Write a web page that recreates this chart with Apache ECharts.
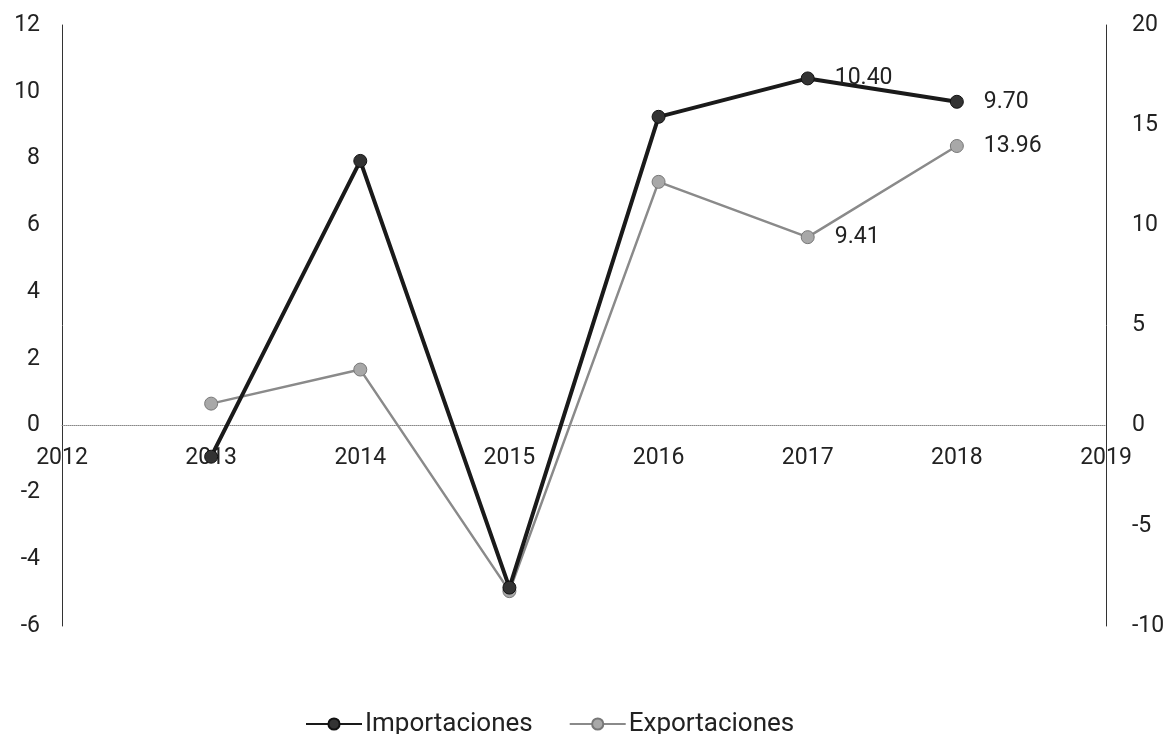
<!DOCTYPE html>
<html>
<head>
<meta charset="utf-8">
<script src="https://cdn.jsdelivr.net/npm/echarts@6/dist/echarts.min.js"></script>
<style>html,body{margin:0;padding:0;background:#fff}#c{width:1168px;height:734px}</style>
</head>
<body>
<div id="c"></div>
<script>
const years = [2013, 2014, 2015, 2016, 2017, 2018];
const importaciones = [-0.93, 7.93, -4.85, 9.25, 10.40, 9.70];
const exportaciones = [1.10, 2.80, -8.26, 12.17, 9.41, 13.96];
const labelledYears = [2017, 2018];
const leftMin = -6, leftMax = 12, leftStep = 2;
const rightMin = -10, rightMax = 20, rightStep = 5;

const font = 'Roboto, "Liberation Sans", sans-serif';
const W = 1168, H = 734;
const grid = {left:62, right:62, top:25, bottom:108};
const plotH = H - grid.top - grid.bottom;
// move the x axis (line + labels) up to the zero of the left axis
const zeroOffset = -plotH * (0 - leftMin) / (leftMax - leftMin);

function toData(vals){
  return years.map((y,i)=>({value:[y, vals[i]], label:{show: labelledYears.includes(y)}}));
}
const chart = echarts.init(document.getElementById('c'));
chart.setOption({
  animation:false,
  grid:Object.assign({containLabel:false}, grid),
  legend:{
    top:706, left:300, itemWidth:56, itemHeight:14, itemGap:36,
    textStyle:{fontFamily:font,fontSize:26,color:'#222',padding:[0,0,0,-2]},
    data:['Importaciones','Exportaciones']
  },
  xAxis:{
    type:'value', min:2012, max:2019, interval:1, offset:zeroOffset,
    axisLine:{onZero:false,lineStyle:{color:'#888',type:'dotted',width:1}},
    axisTick:{show:false}, splitLine:{show:false},
    axisLabel:{fontFamily:font,fontSize:23,color:'#222',margin:21,formatter:v=>String(v)}
  },
  yAxis:[
    {type:'value',min:leftMin,max:leftMax,interval:leftStep,position:'left',
     axisLine:{show:true,onZero:false,lineStyle:{color:'#333',width:1}},
     axisTick:{show:false},splitLine:{show:false},
     axisLabel:{fontFamily:font,fontSize:23,color:'#222',margin:22}},
    {type:'value',min:rightMin,max:rightMax,interval:rightStep,position:'right',
     axisLine:{show:true,onZero:false,lineStyle:{color:'#333',width:1}},
     axisTick:{show:false},splitLine:{show:false},
     axisLabel:{fontFamily:font,fontSize:23,color:'#222',margin:26}}
  ],
  series:[
    {name:'Importaciones',type:'line',yAxisIndex:0,data:toData(importaciones),
     symbol:'circle',symbolSize:13,
     lineStyle:{color:'#1a1a1a',width:4},
     itemStyle:{color:'#333',borderColor:'#111',borderWidth:1},
     label:{position:'right',distance:20,fontFamily:font,fontSize:23,color:'#222',formatter:p=>p.value[1].toFixed(2)},
     z:3},
    {name:'Exportaciones',type:'line',yAxisIndex:1,data:toData(exportaciones),
     symbol:'circle',symbolSize:13,
     lineStyle:{color:'#8a8a8a',width:2.5},
     itemStyle:{color:'#a8a8a8',borderColor:'#777',borderWidth:1},
     label:{position:'right',distance:20,fontFamily:font,fontSize:23,color:'#222',formatter:p=>p.value[1].toFixed(2)},
     z:2}
  ]
});
</script>
</body>
</html>
